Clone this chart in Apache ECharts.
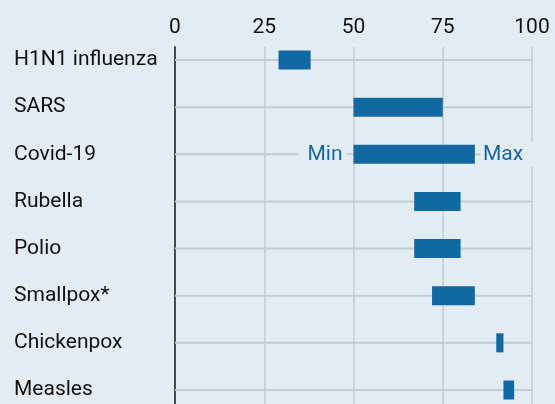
<!DOCTYPE html>
<html>
<head>
<meta charset="utf-8">
<script src="https://cdn.jsdelivr.net/npm/echarts@6/dist/echarts.min.js"></script>
<style>
  html, body { margin: 0; padding: 0; background: #e4ecf3; }
  #main { width: 555px; height: 404px; }
</style>
</head>
<body>
<div id="main"></div>
<script>
  // 数据
  var diseases = ['H1N1 influenza', 'SARS', 'Covid-19', 'Rubella', 'Polio', 'Smallpox*', 'Chickenpox', 'Measles'];
  var minVals = [29, 50, 50, 67, 67, 72, 90, 92];
  var maxVals = [38, 75, 84, 80, 80, 84, 92, 95];
  var xTicks = [0, 25, 50, 75, 100];

  var BLUE = '#1268a0';
  var BG = '#e4ecf3';
  var FONT = 'Roboto, "Noto Sans", sans-serif';

  var rows = diseases.map(function (name, i) {
    return [minVals[i], maxVals[i], i];
  });

  var chart = echarts.init(document.getElementById('main'));
  chart.setOption({
    backgroundColor: BG,
    animation: false,
    grid: { left: 175, right: 23, top: 47, bottom: 0 },
    xAxis: {
      type: 'value',
      position: 'top',
      min: xTicks[0],
      max: xTicks[xTicks.length - 1],
      interval: 25,
      axisLine: { show: false },
      axisTick: { show: false },
      axisLabel: { color: '#111', fontSize: 21, fontFamily: FONT, margin: 9 },
      splitLine: { show: true, lineStyle: { color: '#c3ccd5', width: 1.5 } }
    },
    yAxis: {
      type: 'value',
      inverse: true,
      min: -0.276,
      max: 7.297,
      axisLine: { show: true, lineStyle: { color: '#4a4a4a', width: 2 } },
      axisTick: { show: false },
      splitLine: { show: false },
      axisLabel: {
        customValues: diseases.map(function (d, i) { return i; }),
        formatter: function (v) { return diseases[v]; },
        align: 'left',
        margin: 161,
        color: '#111',
        fontSize: 21,
        fontFamily: FONT
      }
    },
    series: [{
      type: 'custom',
      data: rows,
      renderItem: function (params, api) {
        var lo = api.value(0), hi = api.value(1), idx = api.value(2);
        var left = api.coord([0, idx]);
        var right = api.coord([100, idx]);
        var a = api.coord([lo, idx]);
        var b = api.coord([hi, idx]);
        var h = 19;
        var children = [
          {
            type: 'line',
            shape: { x1: left[0], y1: left[1], x2: right[0], y2: right[1] },
            style: { stroke: '#c3ccd5', lineWidth: 2 }
          },
          {
            type: 'rect',
            shape: { x: a[0], y: a[1] - h / 2, width: b[0] - a[0], height: h },
            style: { fill: BLUE }
          }
        ];
        // Covid-19 行标注 Min / Max
        if (diseases[idx] === 'Covid-19') {
          children.push({
            type: 'text',
            style: {
              x: a[0] - 7, y: a[1], text: 'Min', fill: BLUE,
              font: '21px ' + FONT, align: 'right', verticalAlign: 'middle',
              backgroundColor: BG, padding: [2, 4, 2, 9]
            }
          });
          children.push({
            type: 'text',
            style: {
              x: b[0] + 6, y: b[1], text: 'Max', fill: BLUE,
              font: '21px ' + FONT, align: 'left', verticalAlign: 'middle',
              backgroundColor: BG, padding: [2, 14, 2, 2]
            }
          });
        }
        return { type: 'group', children: children };
      }
    }]
  });
</script>
</body>
</html>
